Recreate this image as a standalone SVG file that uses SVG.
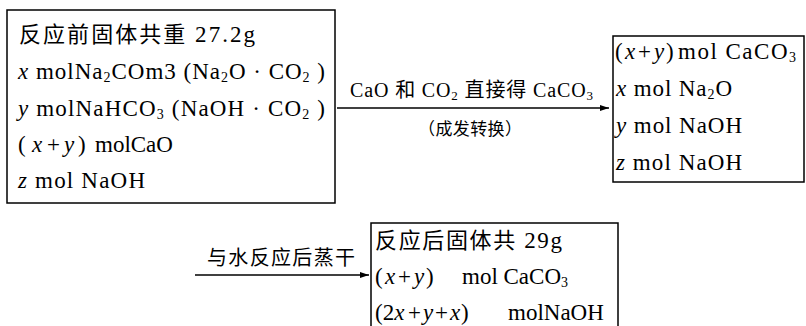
<svg xmlns="http://www.w3.org/2000/svg" width="806" height="326" viewBox="0 0 806 326">
<style>
.box{fill:none;stroke:#000;stroke-width:1.5}
.t{font-family:"Liberation Serif","Noto Sans CJK SC",serif;font-size:23px;fill:#000}
.cn{font-family:"Noto Sans CJK SC",sans-serif}
.lbl{font-family:"Liberation Serif","Noto Sans CJK SC",serif;font-size:20px;fill:#000}
.it{font-style:italic}
.conn{stroke:#000;stroke-width:1.3;fill:none}
</style>
<defs>
<marker id="ah" markerWidth="10" markerHeight="8" refX="9" refY="4" orient="auto" markerUnits="userSpaceOnUse">
<path d="M0,1 L9,4 L0,7 Z" fill="#000"/>
</marker>
</defs>
<rect width="806" height="326" fill="#fff"/>

<g id="before">
<rect class="box" x="7" y="10" width="328" height="193"/>
<text class="t" x="19" y="42" textLength="236"><tspan class="cn" style="font-size:22px">反应前固体共重</tspan> 27.2g</text>
<text class="t" x="18" y="79" textLength="307"><tspan class="it">x</tspan> molNa<tspan style="font-size:14px" dy="3">2</tspan><tspan dy="-3">COm3 (Na</tspan><tspan style="font-size:14px" dy="3">2</tspan><tspan dy="-3">O · CO</tspan><tspan style="font-size:14px" dy="3">2</tspan><tspan dy="-3"> )</tspan></text>
<text class="t" x="18" y="116" textLength="307"><tspan class="it">y</tspan> molNaHCO<tspan style="font-size:14px" dy="3">3</tspan><tspan dy="-3"> (NaOH · CO</tspan><tspan style="font-size:14px" dy="3">2</tspan><tspan dy="-3"> )</tspan></text>
<text class="t" y="152"><tspan x="18">(</tspan><tspan x="32" class="it">x</tspan><tspan x="47">+</tspan><tspan x="64" class="it">y</tspan><tspan x="78">)</tspan><tspan x="95">molCaO</tspan></text>
<text class="t" x="18" y="188" textLength="127"><tspan class="it">z</tspan> mol NaOH</text>
</g>

<g id="mid">
<rect class="box" x="613" y="36" width="191" height="146"/>
<text class="t" y="59"><tspan x="615">(</tspan><tspan x="625" class="it">x</tspan><tspan x="638">+</tspan><tspan x="654" class="it">y</tspan><tspan x="666">)</tspan><tspan x="678" style="letter-spacing:1.5px">mol CaCO</tspan><tspan style="font-size:14px" dy="3">3</tspan></text>
<text class="t" x="616" y="96" textLength="116"><tspan class="it">x</tspan> mol Na<tspan style="font-size:14px" dy="3">2</tspan><tspan dy="-3">O</tspan></text>
<text class="t" x="616" y="133" textLength="126"><tspan class="it">y</tspan> mol NaOH</text>
<text class="t" x="616" y="170" textLength="126"><tspan class="it">z</tspan> mol NaOH</text>
</g>

<g id="after">
<path class="box" d="M371,330 V223 H618 V330"/>
<text class="t" x="375" y="248" textLength="187"><tspan class="cn" style="font-size:22px">反应后固体共</tspan> 29g</text>
<text class="t" y="284"><tspan x="375">(</tspan><tspan x="385" class="it">x</tspan><tspan x="398">+</tspan><tspan x="414" class="it">y</tspan><tspan x="426">)</tspan><tspan x="462">mol CaCO</tspan><tspan style="font-size:14px" dy="3">3</tspan></text>
<text class="t" y="320"><tspan x="375">(2</tspan><tspan class="it">x</tspan><tspan x="408">+</tspan><tspan x="423" class="it">y</tspan><tspan x="435">+</tspan><tspan x="450" class="it">x</tspan><tspan x="461">)</tspan><tspan x="508">molNaOH</tspan></text>
</g>

<g id="connectors">
<line class="conn" x1="337" y1="108" x2="609" y2="108" marker-end="url(#ah)"/>
<text class="lbl" x="350" y="97" textLength="243">CaO <tspan class="cn">和</tspan> CO<tspan style="font-size:13px" dy="3">2</tspan><tspan dy="-3"> </tspan><tspan class="cn">直接得</tspan> CaCO<tspan style="font-size:13px" dy="3">3</tspan></text>
<text class="lbl cn" x="418" y="135" textLength="104" style="font-size:17px">（成发转换）</text>
<line class="conn" x1="195" y1="275" x2="369" y2="275" marker-end="url(#ah)"/>
<text class="lbl cn" x="207" y="265" textLength="148">与水反应后蒸干</text>
</g>
</svg>
